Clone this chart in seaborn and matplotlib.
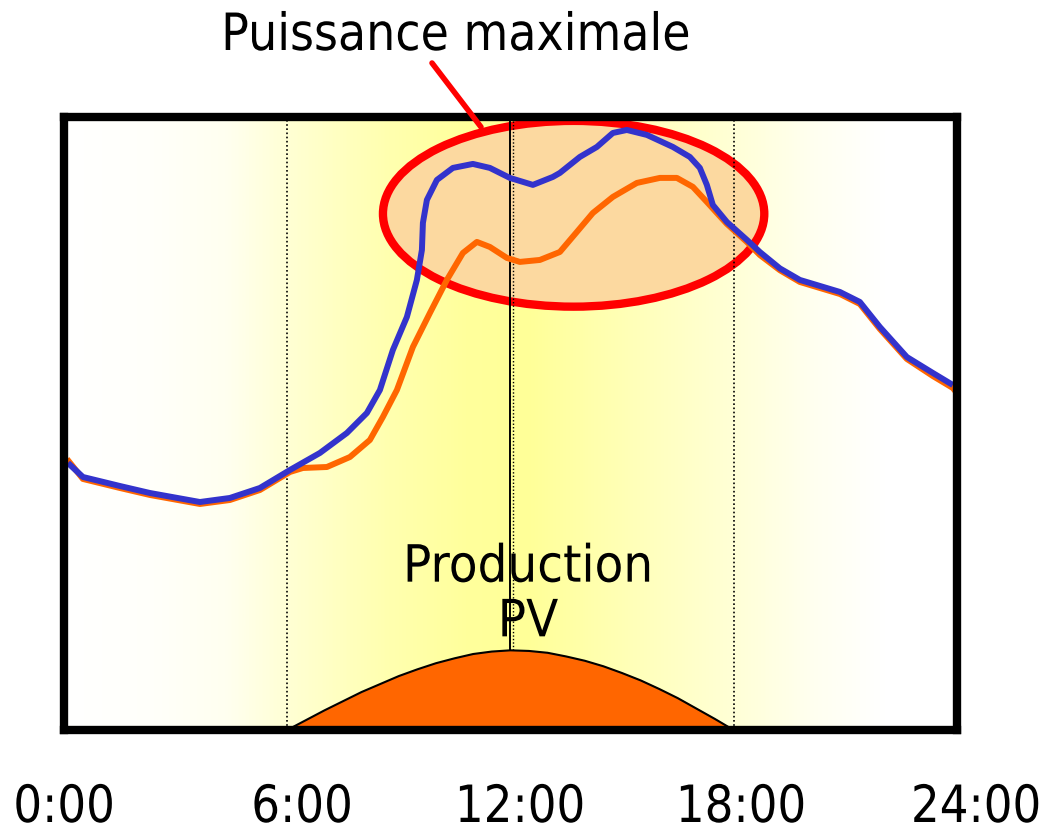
import numpy as np
import pandas as pd
import seaborn as sns
import matplotlib
matplotlib.use("Agg")
import matplotlib.pyplot as plt
from matplotlib.patches import Ellipse
from matplotlib.colors import LinearSegmentedColormap
from matplotlib.patheffects import AbstractPathEffect
import matplotlib.transforms as mtransforms

# Load curve without PV (hours, power)
hours_no_pv = [0.107, 0.511, 1.505, 2.311, 3.655, 4.461, 5.268, 6.074, 6.880, 7.606,
               8.143, 8.493, 8.842, 9.218, 9.487, 9.622, 9.649, 9.756, 10.025, 10.455,
               10.992, 11.449, 11.987, 12.605, 13.142, 13.330, 13.868, 14.325, 14.755,
               15.131, 15.669, 16.368, 16.824, 17.093, 17.281, 17.442, 17.818, 18.356,
               18.705, 19.243, 19.781, 20.856, 21.393, 21.931, 22.657, 23.355, 23.892]
power_no_pv = [43.56, 41.27, 39.80, 38.66, 37.19, 37.85, 39.48, 42.41, 45.19, 48.45,
               51.71, 55.46, 61.99, 67.37, 73.41, 78.30, 82.71, 86.46, 89.72, 91.68,
               92.33, 91.68, 90.05, 88.91, 90.21, 90.86, 93.47, 95.10, 97.38,
               97.87, 97.06, 95.10, 93.47, 91.68, 88.91, 85.64, 82.87, 79.95,
               77.97, 75.30, 73.41, 71.45, 69.82, 65.74, 60.84, 58.24, 56.28]

# Load curve with PV production
hours_pv = [0.081, 0.511, 1.505, 2.311, 3.655, 4.461, 5.268, 6.074, 6.423, 7.068,
            7.687, 8.224, 8.573, 8.950, 9.380, 9.837, 10.293, 10.724, 11.100, 11.449,
            11.906, 12.255, 12.793, 13.330, 13.787, 14.217, 14.755, 15.400, 16.018,
            16.475, 16.905, 17.281, 17.550, 17.818, 18.356, 18.705, 19.243, 19.781,
            20.856, 21.393, 21.931, 22.657, 23.355, 23.892, 24.0]
power_pv = [44.21, 40.95, 39.48, 38.34, 36.87, 37.52, 39.15, 42.09, 42.74, 42.90,
            44.53, 47.31, 51.06, 55.46, 62.48, 68.02, 73.41, 77.81, 79.61, 78.79,
            77.00, 76.35, 76.67, 77.97, 81.24, 84.33, 86.95, 89.23, 90.05,
            90.05, 88.59, 86.13, 84.33, 82.55, 79.61, 77.48, 75.00, 73.08,
            71.12, 69.49, 65.41, 60.52, 57.74, 55.79, 54.98]

# Photovoltaic production over the day
pv_hours = [6, 6.5, 7, 7.5, 8, 8.5, 9, 9.5, 10, 10.5, 11, 11.5, 12,
            12.5, 13, 13.5, 14, 14.5, 15, 15.5, 16, 16.5, 17, 17.5, 18]
pv_power = [0.0, 1.6, 3.2, 4.7, 6.2, 7.5, 8.8, 9.9, 10.9, 11.7, 12.4, 12.8, 13.0,
            12.9, 12.6, 12.0, 11.3, 10.4, 9.3, 8.1, 6.7, 5.2, 3.5, 1.8, 0.0]

tick_labels = ["0:00", "6:00", "12:00", "18:00", "24:00"]

sns.set_theme(style="white")
plt.rcParams["font.family"] = ["DejaVu Sans"]
plt.rcParams["text.color"] = "black"

W, H = 1048, 835
fig = plt.figure(figsize=(W / 100, H / 100), dpi=100)
ax = fig.add_axes([0.061, 0.1257, 0.852, 0.7343])
ax.set_xlim(0, 24)
ax.set_ylim(0, 100)


class NarrowText(AbstractPathEffect):
    """Horizontally compresses glyph outlines around a fixed x (display px)."""

    def __init__(self, sx, cx):
        super().__init__()
        self.sx = sx
        self.cx = cx

    def draw_path(self, renderer, gc, tpath, affine, rgbFace=None):
        squeeze = (mtransforms.Affine2D().translate(-self.cx, 0)
                   .scale(self.sx, 1).translate(self.cx, 0))
        renderer.draw_path(gc, tpath, affine + squeeze, rgbFace)


# Daylight background gradient
sun_cmap = LinearSegmentedColormap.from_list(
    "daylight",
    [(0.0, "#ffffff"), (0.10, "#fffffa"), (0.18, "#fffff0"), (0.25, "#ffffd4"),
     (0.36, "#ffffb0"), (0.45, "#ffff9c"), (0.52, "#ffff98"), (0.62, "#ffffb4"),
     (0.75, "#ffffd6"), (0.84, "#fffff0"), (0.92, "#ffffff"), (1.0, "#ffffff")])
grad = np.linspace(0, 1, 512).reshape(1, -1)
ax.imshow(grad, cmap=sun_cmap, aspect="auto", extent=[0, 24, 0, 100], zorder=0)

# Peak power highlight
ax.add_patch(Ellipse((13.7, 84.2), 10.25, 30.3, facecolor="#fcd9a0",
                     edgecolor="#ff0000", lw=6, zorder=1))

# Time-of-day guides
ax.axvline(6, color="black", lw=1.2, ls=(0, (1, 1.5)), zorder=2)
ax.axvline(18, color="black", lw=1.2, ls=(0, (1, 1.5)), zorder=2)
ax.axvline(12, color="black", lw=1.4, zorder=2)
ax.axvline(12.08, color="black", lw=1.0, ls=(0, (1, 1.5)), zorder=2)

# PV production area
ax.fill_between(pv_hours, pv_power, 0, color="#ff6600", zorder=3)
ax.plot(pv_hours, pv_power, color="black", lw=1.5, zorder=3)

df = pd.concat([
    pd.DataFrame({"heure": hours_pv, "puissance": power_pv, "courbe": "avec PV"}),
    pd.DataFrame({"heure": hours_no_pv, "puissance": power_no_pv, "courbe": "sans PV"}),
])
sns.lineplot(data=df, x="heure", y="puissance", hue="courbe",
             palette={"avec PV": "#ff6600", "sans PV": "#3333cc"},
             estimator=None, lw=4.3, legend=False, ax=ax, zorder=4,
             solid_joinstyle="round", solid_capstyle="butt")

ax.set_xlabel("")
ax.set_ylabel("")
ax.set_xticks([])
ax.set_yticks([])
for s in ax.spines.values():
    s.set_visible(True)
    s.set_color("black")
    s.set_linewidth(6)
    s.set_zorder(6)

# Annotations
title_x = 456
fig.text(title_x / W, 1 - 36 / H, "Puissance maximale", ha="center", va="center",
         fontsize=37, path_effects=[NarrowText(0.895, title_x)])
fig.add_artist(plt.Line2D([432 / W, 481 / W], [1 - 63 / H, 1 - 127 / H],
                          color="#ff0000", lw=4))

pv_x = 528
fig.text(pv_x / W, 1 - 595 / H, "Production\nPV", ha="center", va="center",
         fontsize=37, linespacing=1.12, zorder=5,
         path_effects=[NarrowText(0.915, pv_x)])

label_x = [64, 302, 520, 741, 976]
for px, lab in zip(label_x, tick_labels):
    fig.text(px / W, 1 - 808 / H, lab, ha="center", va="center", fontsize=37,
             path_effects=[NarrowText(0.88, px)])

fig.savefig("out.png", dpi=100)
